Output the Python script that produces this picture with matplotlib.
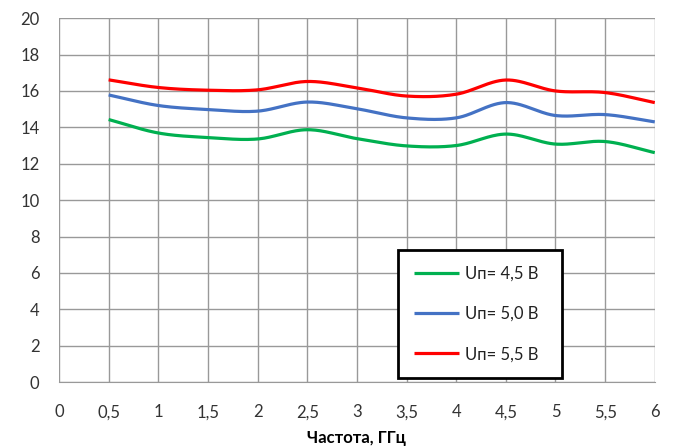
import numpy as np
import matplotlib

matplotlib.use("Agg")
import matplotlib.pyplot as plt

# frequency, GHz
freq = [0.5, 1.0, 1.5, 2.0, 2.5, 3.0, 3.5, 4.0, 4.5, 5.0, 5.5, 6.0]
gain_45 = [14.43, 13.69, 13.44, 13.36, 13.87, 13.38, 12.98, 13.00, 13.63, 13.08, 13.22, 12.61]
gain_50 = [15.78, 15.20, 14.98, 14.89, 15.39, 15.02, 14.52, 14.52, 15.36, 14.65, 14.70, 14.30]
gain_55 = [16.61, 16.19, 16.04, 16.06, 16.52, 16.17, 15.72, 15.82, 16.60, 16.00, 15.91, 15.36]
labels = ["Uп= 4,5 В", "Uп= 5,0 В", "Uп= 5,5 В"]
colors = ["#00b050", "#4472c4", "#ff0000"]


def smooth(x, y, n=30):
    # Excel-style smoothed line (Catmull-Rom through the points)
    x = np.asarray(x, float)
    y = np.asarray(y, float)
    px = np.concatenate([[2 * x[0] - x[1]], x, [2 * x[-1] - x[-2]]])
    py = np.concatenate([[2 * y[0] - y[1]], y, [2 * y[-1] - y[-2]]])
    xs, ys = [], []
    t = np.linspace(0, 1, n, endpoint=False)
    for i in range(1, len(px) - 2):
        for arr, out in ((px, xs), (py, ys)):
            p0, p1, p2, p3 = arr[i - 1:i + 3]
            out.extend(0.5 * (2 * p1 + (-p0 + p2) * t + (2 * p0 - 5 * p1 + 4 * p2 - p3) * t ** 2
                              + (-p0 + 3 * p1 - 3 * p2 + p3) * t ** 3))
    xs.append(x[-1])
    ys.append(y[-1])
    return xs, ys


plt.rcParams["font.family"] = ["Lato", "DejaVu Sans"]
fig = plt.figure(figsize=(6.74, 4.48), dpi=100)
ax = fig.add_axes([0.0875, 0.147, 0.884, 0.8125])

for y, lab, c in zip([gain_45, gain_50, gain_55], labels, colors):
    sx, sy = smooth(freq, y)
    ax.plot(sx, sy, color=c, lw=2.3, label=lab, solid_capstyle="butt")

ax.set_xlim(0, 6)
ax.set_ylim(0, 20)
xt = np.arange(0, 6.01, 0.5)
ax.set_xticks(xt)
ax.set_xticklabels([f"{v:g}".replace(".", ",") for v in xt])
ax.set_yticks(np.arange(0, 21, 2))
ax.grid(True, color="#999999", lw=1.0)
ax.tick_params(length=0, labelsize=12, colors="#333333")
ax.tick_params(axis="x", pad=16)
ax.tick_params(axis="y", pad=14)
for s in ax.spines.values():
    s.set_visible(False)
ax.spines["bottom"].set_visible(True)
ax.spines["bottom"].set_color("#999999")
ax.set_xlabel("Частота, ГГц", fontsize=12, fontweight="bold", labelpad=7)

leg = ax.legend(loc="upper left", bbox_to_anchor=(0.569, 0.019, 0.275, 0.344), mode="expand",
                fontsize=12, frameon=True, fancybox=False, edgecolor="black", framealpha=1,
                handlelength=2.7, handletextpad=0.35, labelspacing=1.45,
                borderpad=0.95, borderaxespad=0)
leg.get_frame().set_linewidth(2)
for t in leg.get_texts():
    t.set_color("#222222")

fig.savefig("out.png", dpi=100)
